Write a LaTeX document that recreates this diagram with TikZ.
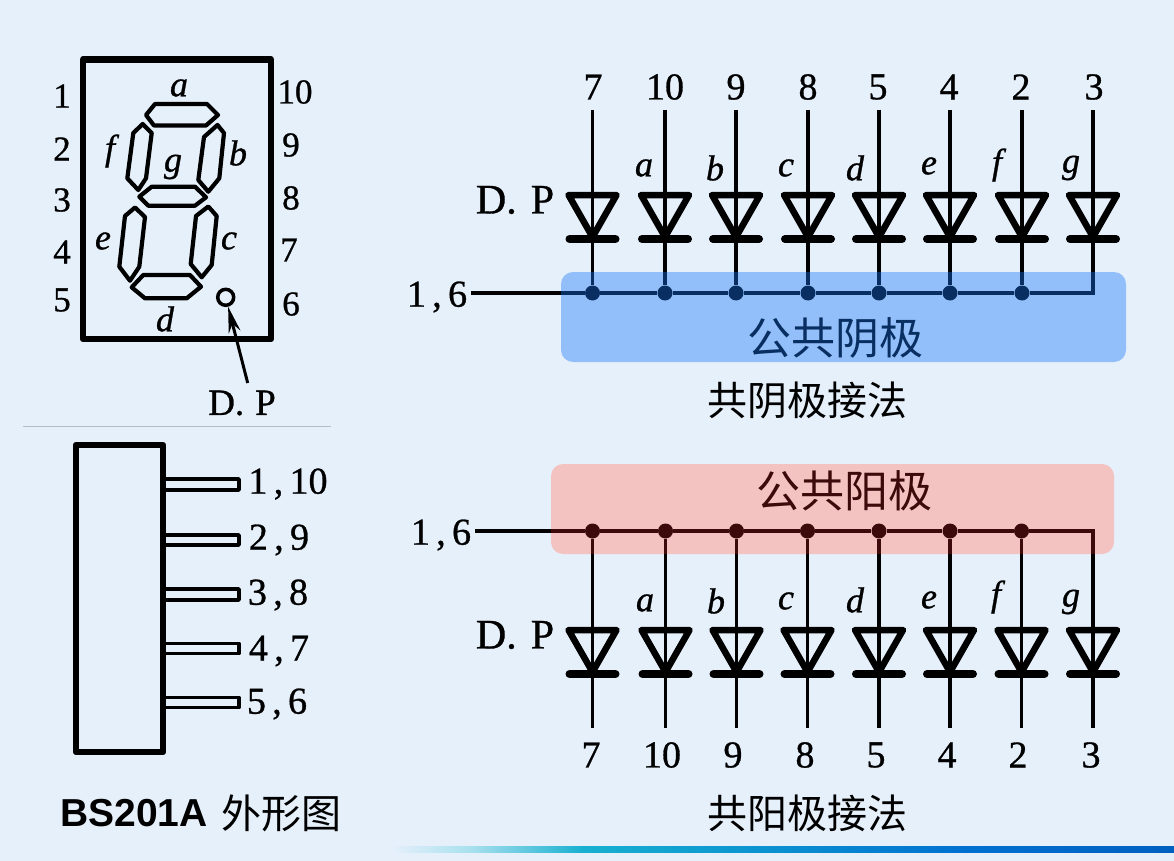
\documentclass[tikz,border=0pt]{standalone}
\usepackage{fontspec}
\setmainfont[RawFeature={embolden=0.8}]{Liberation Serif}
\newfontfamily\cjk{Noto Sans CJK SC}
\newfontfamily\arialfont{Liberation Sans}
\usetikzlibrary{arrows.meta}
\definecolor{pagebg}{HTML}{E6F0FB}
\definecolor{bluebox}{HTML}{1475F6}
\definecolor{redunder}{HTML}{F4F8F5}
\definecolor{redbox}{HTML}{F02828}
\definecolor{rulegray}{HTML}{B4BCC4}
\definecolor{barlight}{HTML}{A8E0EE}
\definecolor{barcyan}{HTML}{18B0D0}
\definecolor{barmid}{HTML}{0A90D0}
\definecolor{barblue}{HTML}{0070D0}
\definecolor{bardark}{HTML}{0060C0}
\pgfdeclarehorizontalshading{barshade}{100bp}{color(0bp)=(pagebg); color(26bp)=(pagebg); color(31bp)=(barlight); color(38bp)=(barcyan); color(50bp)=(barmid); color(62bp)=(barblue); color(75bp)=(bardark); color(100bp)=(bardark)}
\tikzset{
  diode/.style={inner sep=0,minimum size=62,path picture={
    \draw[line width=6.5,line join=round]
      ([shift={(-24,-22)}]path picture bounding box.center)
      -- ([shift={(24,-22)}]path picture bounding box.center)
      -- ([shift={(0,20)}]path picture bounding box.center) -- cycle;
    \draw[line width=8,line cap=round]
      ([shift={(-23,22)}]path picture bounding box.center)
      -- ([shift={(23,22)}]path picture bounding box.center);}},
  dot/.style={circle,fill=black,inner sep=0,minimum size=15},
  pin/.style={inner sep=0,font=\fontsize{38}{38}\selectfont},
  seglabel/.style={inner sep=0,font=\fontsize{36}{36}\selectfont\itshape},
  cnlabel/.style={inner sep=0,font=\fontsize{40}{40}\selectfont\cjk},
  boxlabel/.style={inner sep=0,font=\fontsize{44}{44}\selectfont\cjk},
  segment/.style={line width=4.2,line join=round},
  wire/.style={line width=3.6},
  frame/.style={line width=6.5,line join=round}
}
\begin{document}
\begin{tikzpicture}[x=1pt,y=-1pt]
  \useasboundingbox (0,0) rectangle (1174,861);
  \fill[pagebg] (0,0) rectangle (1174,861);
  \fill[redunder,rounded corners=12] (551,464) rectangle (1114,554);
  % display, front view
  \draw[frame] (83,59.5) rectangle (271,339);
  \draw[segment] (146,115) -- (155,104) -- (207,104) -- (218,115) -- (206,125.5) -- (154,125.5) -- cycle;
  \draw[segment] (142.7,124) -- (151.7,133) -- (146,178.3) -- (138.3,190) -- (127.3,178.3) -- (133.3,133) -- cycle;
  \draw[segment] (217.5,125) -- (224,133) -- (219.3,178.3) -- (208.3,191.7) -- (198.3,180) -- (204,137) -- cycle;
  \draw[segment] (139.3,196.7) -- (151.7,186.7) -- (195,186.7) -- (206,197.3) -- (195,205.7) -- (148.3,205.7) -- cycle;
  \draw[segment] (135,207.5) -- (145,217) -- (139.3,266.7) -- (130,280.7) -- (119.3,266.7) -- (125,216) -- cycle;
  \draw[segment] (208.3,206.5) -- (216.7,216) -- (211.7,265) -- (201.7,277.3) -- (190.7,264) -- (196,216) -- cycle;
  \draw[segment] (131.7,287.3) -- (143.3,275) -- (190,275) -- (201,286.7) -- (186.7,298.3) -- (145,298.3) -- cycle;
  \draw
    (62,96) node[pin,font=\fontsize{35}{35}\selectfont] (l1){1}
    (62,149) node[pin,font=\fontsize{35}{35}\selectfont] (l2){2}
    (62,200) node[pin,font=\fontsize{35}{35}\selectfont] (l3){3}
    (62,252) node[pin,font=\fontsize{35}{35}\selectfont] (l4){4}
    (62,300) node[pin,font=\fontsize{35}{35}\selectfont] (l5){5}
    (295,92) node[pin,font=\fontsize{35}{35}\selectfont] (l10){10}
    (291,145) node[pin,font=\fontsize{35}{35}\selectfont] (l9){9}
    (291,198) node[pin,font=\fontsize{35}{35}\selectfont] (l8){8}
    (289,250) node[pin,font=\fontsize{35}{35}\selectfont] (l7){7}
    (291,304) node[pin,font=\fontsize{35}{35}\selectfont] (l6){6}
    (179,88) node[seglabel] (sa){a}
    (238,153) node[seglabel] (sb){b}
    (229,241) node[seglabel] (sc){c}
    (165,319) node[seglabel] (sd){d}
    (103,241) node[seglabel] (se){e}
    (110,151) node[seglabel] (sf){f}
    (173,167) node[seglabel] (sg){g}
    (225.7,297.3) node[circle,draw,line width=3.5,inner sep=0,minimum size=16] (dpc){}
    (242,403) node[pin,font=\fontsize{37}{37}\selectfont] (dpl){D.\hspace{11pt}P};
  \coordinate (dpt) at (247.7,383);
  \draw[line width=3,-{Stealth[length=26,width=12]}] (dpt) to (dpc);
  \draw[line width=1,rulegray] (23,426) to (331,426);
  % display, side view
  \draw[frame] (76,445) rectangle (163,752);
  \begin{scope}[line width=3.6,line join=round]
    \draw (163,479) -- (239,479) -- (239,490) -- (163,490);
    \draw (163,535) -- (239,535) -- (239,545) -- (163,545);
    \draw (163,589) -- (239,589) -- (239,600) -- (163,600);
    \draw (163,643.5) -- (239,643.5) -- (239,653.5) -- (163,653.5);
    \draw (163,697.5) -- (239,697.5) -- (239,707.5) -- (163,707.5);
  \end{scope}
  \draw
    (288,484) node[pin] (s1){1\,,\,10}
    (279,540) node[pin] (s2){2\,,\,9}
    (278,595) node[pin] (s3){3\,,\,8}
    (279,651) node[pin] (s4){4\,,\,7}
    (277,704) node[pin] (s5){5\,,\,6};
  \node[inner sep=0,anchor=west,font=\fontsize{39}{39}\selectfont\arialfont\bfseries] (cap) at (60,813) {BS201A};
  \node[cnlabel,anchor=west] (capcn) at (221,813) {外形图};
  % common cathode
  \draw
    (593,87) node[pin] (kn1){7}
    (665,87) node[pin] (kn2){10}
    (736,87) node[pin] (kn3){9}
    (808,87) node[pin] (kn4){8}
    (878,87) node[pin] (kn5){5}
    (949,87) node[pin] (kn6){4}
    (1021,87) node[pin] (kn7){2}
    (1094,87) node[pin] (kn8){3}
    (592.5,110) coordinate (kt1)
    (665,110) coordinate (kt2)
    (736,110) coordinate (kt3)
    (808,110) coordinate (kt4)
    (879,110) coordinate (kt5)
    (950,110) coordinate (kt6)
    (1022,110) coordinate (kt7)
    (1093,110) coordinate (kt8)
    (1093,293) coordinate (kc)
    (592.5,293) node[dot] (kj1){}
    (665,293) node[dot] (kj2){}
    (736,293) node[dot] (kj3){}
    (808,293) node[dot] (kj4){}
    (879,293) node[dot] (kj5){}
    (950,293) node[dot] (kj6){}
    (1022,293) node[dot] (kj7){}
    (592.5,217) node[diode] (kd1){}
    (665,217) node[diode] (kd2){}
    (736,217) node[diode] (kd3){}
    (808,217) node[diode] (kd4){}
    (879,217) node[diode] (kd5){}
    (950,217) node[diode] (kd6){}
    (1022,217) node[diode] (kd7){}
    (1093,217) node[diode] (kd8){}
    (644,168) node[seglabel] (ka){a}
    (715,168) node[seglabel] (kb){b}
    (786,168) node[seglabel] (kcc){c}
    (855,168) node[seglabel] (kdd){d}
    (929,166) node[seglabel] (ke){e}
    (997,165) node[seglabel] (kf){f}
    (1071,168) node[seglabel] (kg){g}
    (515,200) node[pin,font=\fontsize{42}{42}\selectfont] (kdp){D.\hspace{14pt}P}
    (437,297) node[pin,inner sep=4] (k16){1\,,\,6}
    (835,338) node[boxlabel] (kbox){公共阴极}
    (807,400) node[cnlabel] (kcap){共阴极接法};
  \begin{scope}[wire]
    \draw (kt1) to (kj1);
    \draw (kt2) to (kj2);
    \draw (kt3) to (kj3);
    \draw (kt4) to (kj4);
    \draw (kt5) to (kj5);
    \draw (kt6) to (kj6);
    \draw (kt7) to (kj7);
    \draw (k16.east |- kj1) to (kj1);
    \draw (kj1) to (kj2);
    \draw (kj2) to (kj3);
    \draw (kj3) to (kj4);
    \draw (kj4) to (kj5);
    \draw (kj5) to (kj6);
    \draw (kj6) to (kj7);
    \draw (kj7) -- (kc) -- (kt8);
  \end{scope}
  \fill[bluebox,opacity=.4,rounded corners=12] (561,272) rectangle (1126,362);
  % common anode
  \draw
    (591,755) node[pin] (an1){7}
    (662,755) node[pin] (an2){10}
    (733,755) node[pin] (an3){9}
    (805,755) node[pin] (an4){8}
    (876,755) node[pin] (an5){5}
    (947,755) node[pin] (an6){4}
    (1018,755) node[pin] (an7){2}
    (1091,755) node[pin] (an8){3}
    (592.5,728) coordinate (at1)
    (665.5,728) coordinate (at2)
    (736.5,728) coordinate (at3)
    (807.5,728) coordinate (at4)
    (879,728) coordinate (at5)
    (950,728) coordinate (at6)
    (1021.5,728) coordinate (at7)
    (1093,728) coordinate (at8)
    (1093,531) coordinate (ac)
    (592.5,531) node[dot] (aj1){}
    (665.5,531) node[dot] (aj2){}
    (736.5,531) node[dot] (aj3){}
    (807.5,531) node[dot] (aj4){}
    (879,531) node[dot] (aj5){}
    (950,531) node[dot] (aj6){}
    (1021.5,531) node[dot] (aj7){}
    (592.5,652) node[diode] (ad1){}
    (665.5,652) node[diode] (ad2){}
    (736.5,652) node[diode] (ad3){}
    (807.5,652) node[diode] (ad4){}
    (879,652) node[diode] (ad5){}
    (950,652) node[diode] (ad6){}
    (1021.5,652) node[diode] (ad7){}
    (1093,652) node[diode] (ad8){}
    (645,603) node[seglabel] (aa){a}
    (716,601) node[seglabel] (ab){b}
    (786,601) node[seglabel] (acc){c}
    (855,600) node[seglabel] (add){d}
    (929,600) node[seglabel] (ae){e}
    (996,597) node[seglabel] (af){f}
    (1071,602) node[seglabel] (ag){g}
    (515,635) node[pin,font=\fontsize{42}{42}\selectfont] (adp){D.\hspace{14pt}P}
    (441,535) node[pin,inner sep=4] (a16){1\,,\,6}
    (844,491) node[boxlabel] (abox){公共阳极}
    (807,813) node[cnlabel] (acap){共阳极接法};
  \begin{scope}[wire]
    \draw (at1) to (aj1);
    \draw (at2) to (aj2);
    \draw (at3) to (aj3);
    \draw (at4) to (aj4);
    \draw (at5) to (aj5);
    \draw (at6) to (aj6);
    \draw (at7) to (aj7);
    \draw (a16.east |- aj1) to (aj1);
    \draw (aj1) to (aj2);
    \draw (aj2) to (aj3);
    \draw (aj3) to (aj4);
    \draw (aj4) to (aj5);
    \draw (aj5) to (aj6);
    \draw (aj6) to (aj7);
    \draw (aj7) -- (ac) -- (at8);
  \end{scope}
  \fill[redbox,opacity=.25,rounded corners=12] (551,464) rectangle (1114,554);
  \shade[shading=barshade] (375,846) rectangle (1174,852);
\end{tikzpicture}
\end{document}
